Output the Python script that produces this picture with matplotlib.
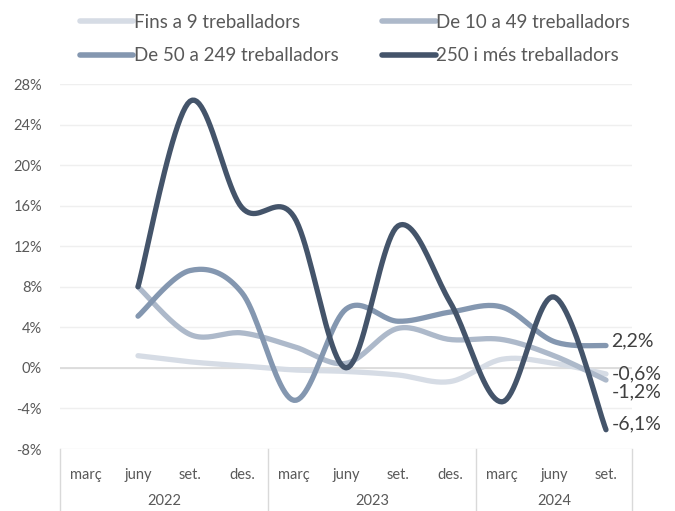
import numpy as np
import matplotlib
matplotlib.use("Agg")
import matplotlib.pyplot as plt

plt.rcParams['font.family'] = ['Lato', 'DejaVu Sans']

# ---------------- data ----------------
months = ["març", "juny", "set.", "des.", "març", "juny", "set.", "des.", "març", "juny", "set."]
years = ["2022", "2023", "2024"]
year_sizes = [4, 4, 3]
series_names = ["Fins a 9 treballadors", "De 10 a 49 treballadors",
                "De 50 a 249 treballadors", "250 i més treballadors"]
# values in %, first category (març 2022) has no data
fins9 = [None, 1.2, 0.6, 0.2, -0.2, -0.35, -0.7, -1.35, 0.85, 0.45, -0.6]
de10_49 = [None, 8.0, 3.3, 3.45, 2.1, 0.45, 3.9, 2.8, 2.8, 1.2, -1.2]
de50_249 = [None, 5.1, 9.6, 7.4, -3.2, 5.8, 4.6, 5.5, 6.0, 2.6, 2.2]
de250 = [None, 8.0, 26.3, 15.8, 14.9, 0.0, 14.0, 6.5, -3.35, 7.0, -6.1]
end_labels = ["-0,6%", "-1,2%", "2,2%", "-6,1%"]
yticks = [-8, -4, 0, 4, 8, 12, 16, 20, 24, 28]

colors = ["#D6DCE5", "#ADB9CA", "#8497B0", "#44546A"]
label_dy = [0.0, -1.2, 0.5, 0.55]   # layout nudges (in % units) for end labels


def smooth(xs, ys, n=24):
    """Catmull-Rom smoothing like Excel's smoothed line."""
    xs = np.asarray(xs, float)
    ys = np.asarray(ys, float)
    P = np.column_stack([xs, ys])
    P = np.vstack([P[0], P, P[-1]])
    out = []
    t = np.linspace(0, 1, n)[:, None]
    for i in range(1, len(P) - 2):
        p0, p1, p2, p3 = P[i - 1], P[i], P[i + 1], P[i + 2]
        c1 = p1 + (p2 - p0) / 6.0
        c2 = p2 - (p3 - p1) / 6.0
        seg = ((1 - t) ** 3) * p1 + 3 * ((1 - t) ** 2) * t * c1 + 3 * (1 - t) * t ** 2 * c2 + t ** 3 * p2
        out.append(seg if i == 1 else seg[1:])
    out = np.vstack(out)
    return out[:, 0], out[:, 1]


W, H = 675, 511
fig = plt.figure(figsize=(W / 100, H / 100), dpi=100)
ax = fig.add_axes([60 / W, 1 - 449 / H, (632 - 60) / W, (449 - 84) / H])

x_all = np.arange(len(months))
all_series = [fins9, de10_49, de50_249, de250]
handles = []
for vals, col, name, lab, dy in zip(all_series, colors, series_names, end_labels, label_dy):
    xs = [x for x, v in zip(x_all, vals) if v is not None]
    ys = [v for v in vals if v is not None]
    sx, sy = smooth(xs, ys)
    ln, = ax.plot(sx, sy, color=col, lw=3.8, solid_capstyle='round', label=name, zorder=3)
    handles.append(ln)
    ax.annotate(lab, xy=(xs[-1], ys[-1] + dy), xytext=(4, 0), textcoords='offset points',
                ha='left', va='center', fontsize=14, color='#404040', annotation_clip=False)

ax.set_xlim(-0.5, len(months) - 0.5)
ax.set_ylim(-8, 28)
ax.set_yticks(yticks)
ax.set_yticklabels([f"{v}%" for v in yticks])
ax.yaxis.grid(True, color='#EFEFEF', lw=1)
ax.axhline(0, color='#D9D9D9', lw=1.2, zorder=1)
ax.set_axisbelow(True)
for s in ax.spines.values():
    s.set_visible(False)
ax.tick_params(axis='y', length=0, pad=13, labelsize=10.5, labelcolor='#595959')
ax.set_xticks(x_all)
ax.set_xticklabels(months)
ax.tick_params(axis='x', length=0, pad=14, labelsize=10.5, labelcolor='#595959')

# multi-level category axis
trans = ax.get_xaxis_transform()
bounds = np.concatenate([[0], np.cumsum(year_sizes)]) - 0.5
for b in bounds:
    ax.plot([b, b], [0, -0.3], transform=trans, color='#D9D9D9', lw=1, clip_on=False)
for i, yl in enumerate(years):
    c = (bounds[i] + bounds[i + 1]) / 2
    ax.text(c, -0.142, yl, transform=trans, ha='center', va='center', fontsize=10.5, color='#595959')

# legend filled row-wise (matplotlib fills column-wise)
order = [0, 2, 1, 3]
leg = fig.legend(handles=[handles[i] for i in order], loc='upper left',
                 bbox_to_anchor=(63 / W, 1 + 3 / H), ncol=2,
                 frameon=False, fontsize=13.5, handlelength=2.85, handletextpad=0.05,
                 columnspacing=2.3, labelspacing=0.87, labelcolor='#595959')
for lh in leg.get_lines():
    lh.set_linewidth(4)

fig.savefig("out.png", dpi=100)
